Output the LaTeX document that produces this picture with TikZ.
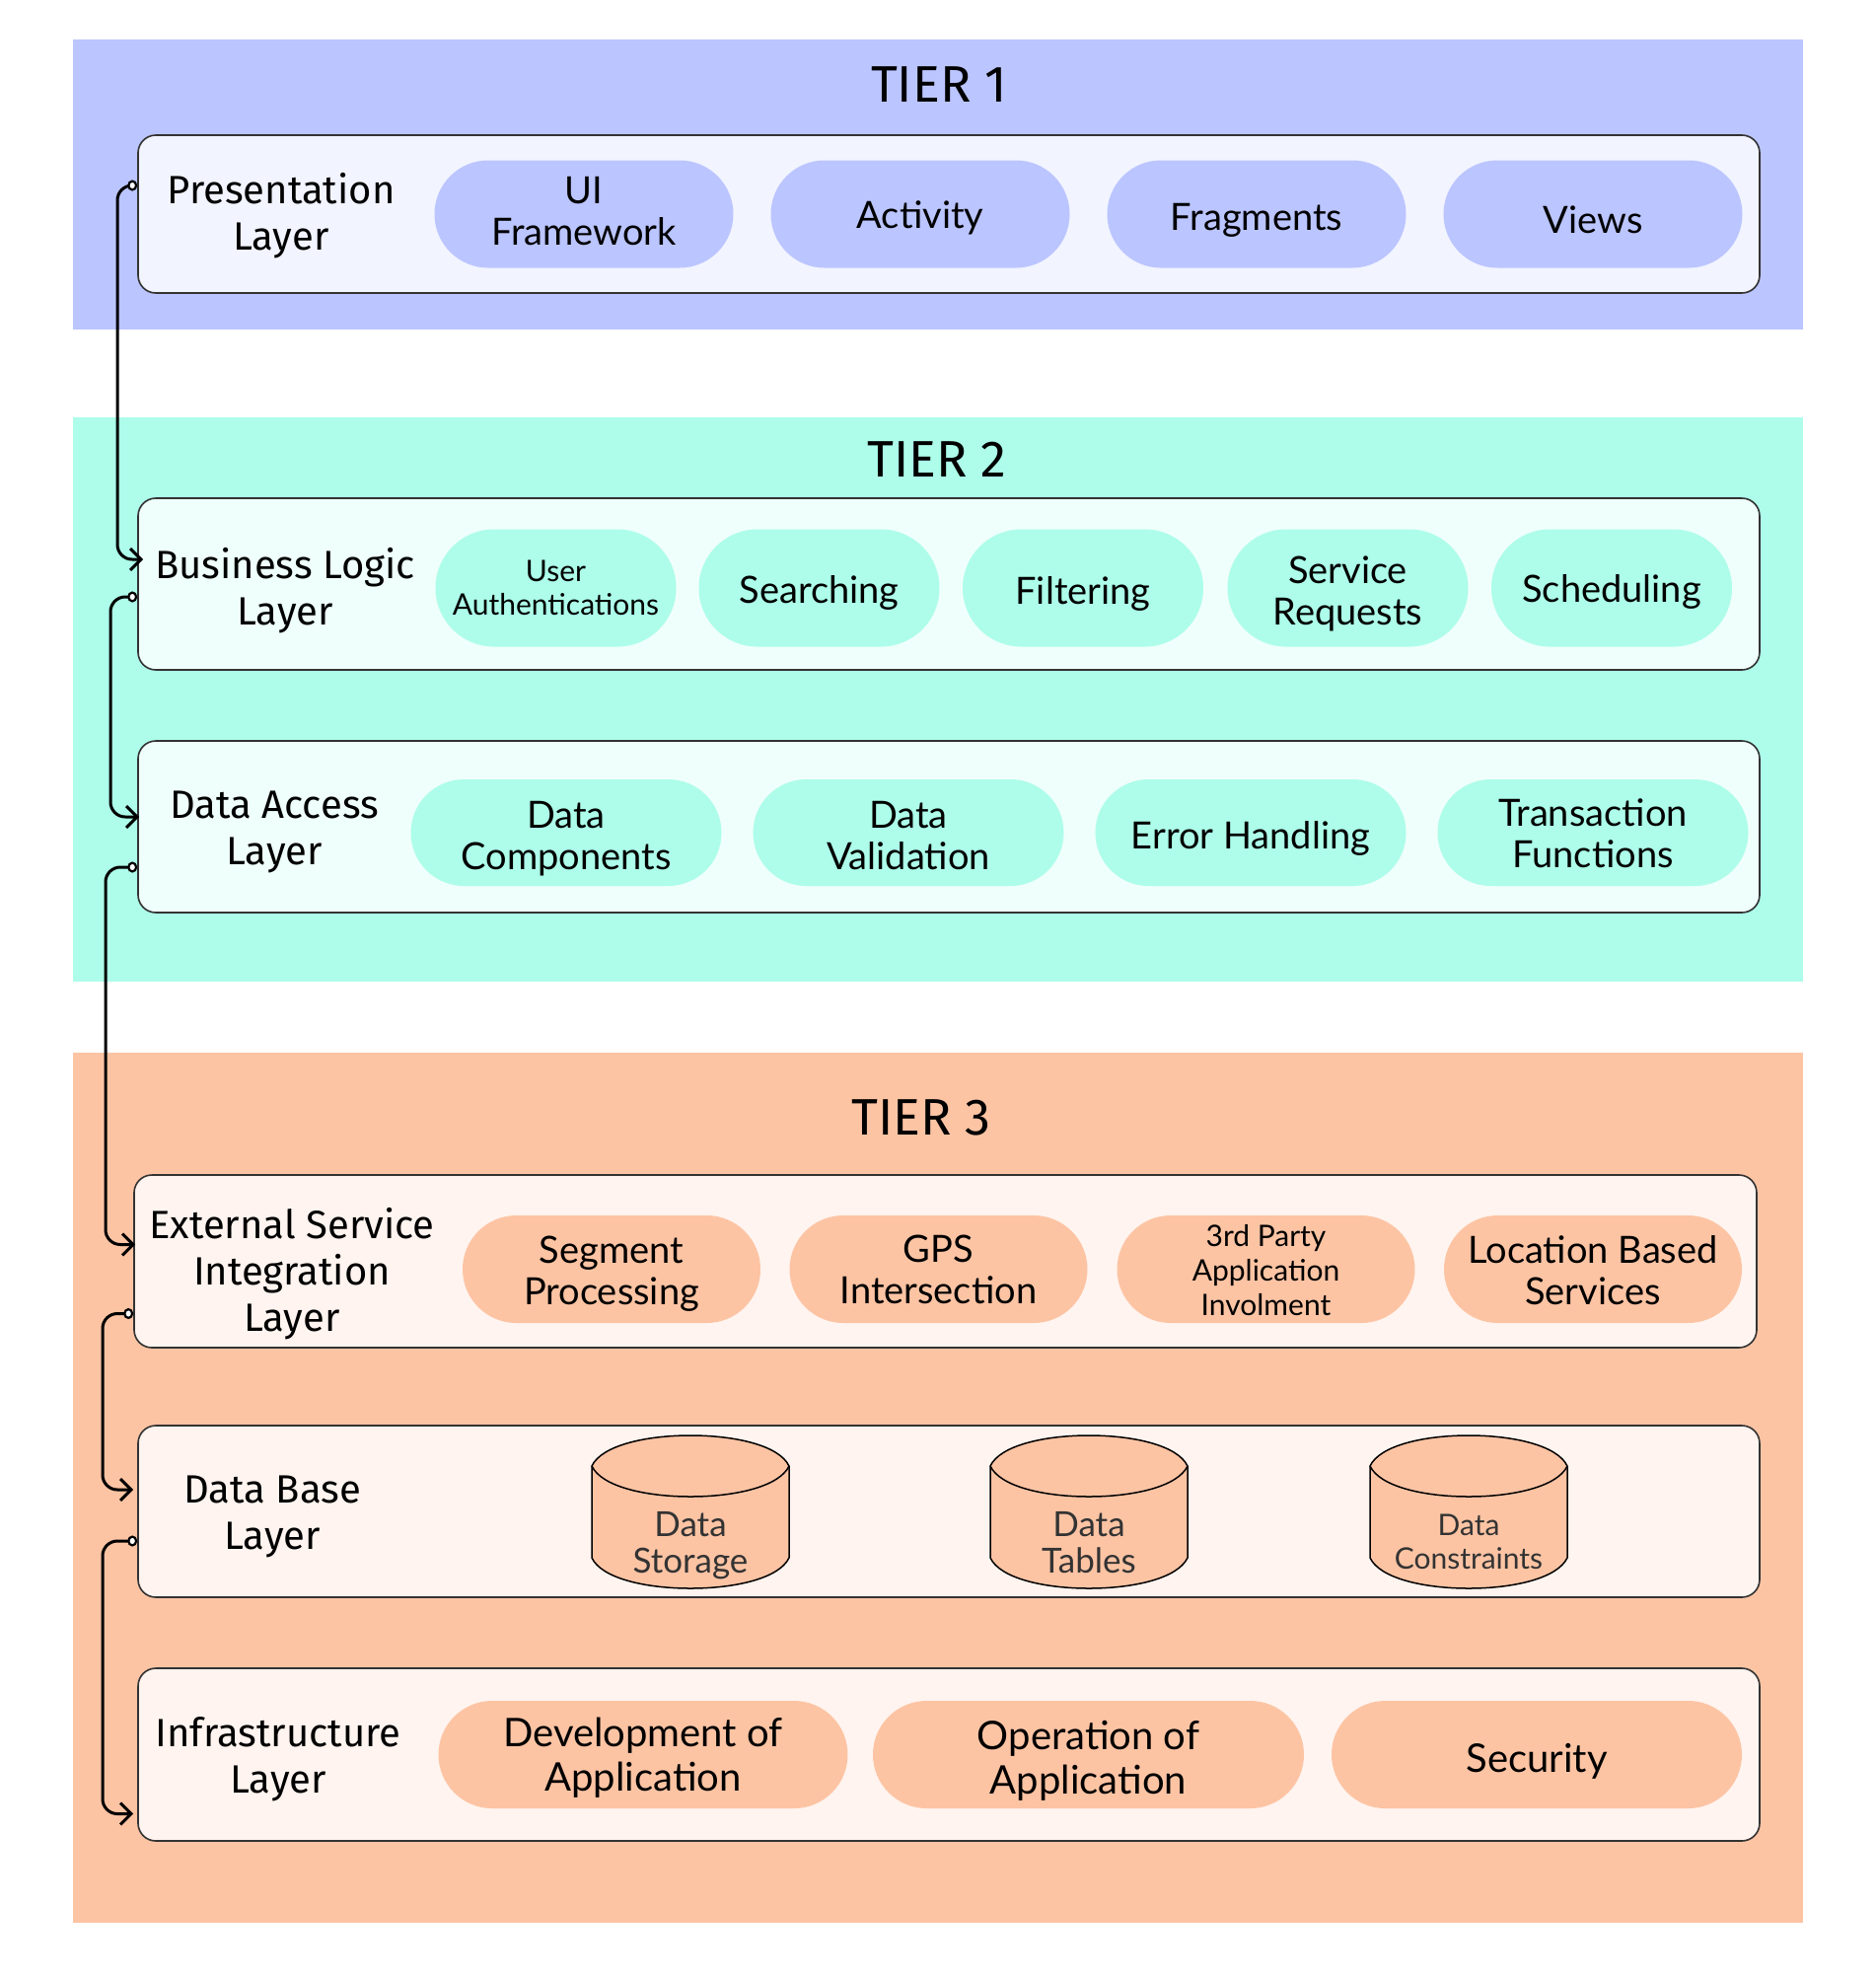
\documentclass[tikz,border=0pt]{standalone}
\usepackage{fontspec}
\setmainfont{Fira Sans}
\newfontfamily\pillfont{Lato}
\usetikzlibrary{arrows.meta,calc,shapes.misc}
\definecolor{tonebandA}{HTML}{BBC5FF}
\definecolor{toneboxA}{HTML}{F2F4FF}
\definecolor{tonebandB}{HTML}{ADFDEA}
\definecolor{toneboxB}{HTML}{EFFFFB}
\definecolor{tonebandC}{HTML}{FDC4A4}
\definecolor{toneboxC}{HTML}{FFF4EF}
\definecolor{edgegray}{HTML}{333333}
\tikzset{
  band/.style={fill=#1, draw=none, inner sep=0pt, minimum width=1754pt},
  layerbox/.style={draw=edgegray, line width=1.6pt, rounded corners=18pt, fill=#1, inner sep=0pt},
  tiertitle/.style={font=\fontsize{52}{60}\selectfont, inner sep=0pt},
  layerlabel/.style={font=\fontsize{40}{47}\selectfont, align=center, inner sep=0pt},
  pill/.style={rounded rectangle, fill=#1, draw=none, inner sep=0pt, align=center,
               font=\pillfont\fontsize{38}{42}\selectfont},
  pilltext/.style={align=center, inner sep=0pt, font=\pillfont\fontsize{38}{42}\selectfont},
  smalltext/.style={font=\pillfont\fontsize{30}{34}\selectfont},
  cyltext/.style={align=center, inner sep=0pt, text=edgegray, font=\pillfont\fontsize{35}{37}\selectfont},
  conn/.style={line width=3pt, rounded corners=15pt,
     {Circle[open,length=10pt,width=11pt,fill=white,line width=2.2pt]}-{Straight Barb[length=11pt,width=22pt]}}
}
\begin{document}
\begin{tikzpicture}[x=1pt,y=-1pt]
\useasboundingbox (0,0) rectangle (1902,2008);
\fill[white] (0,0) rectangle (1902,2008);

% bands
\node[band=tonebandA, minimum height=294pt] (tierA) at (951,187) {};
\node[band=tonebandB, minimum height=572pt] (tierB) at (951,709) {};
\node[band=tonebandC, minimum height=882pt] (tierC) at (951,1508) {};

\node[tiertitle] (titleA) at (952,86) {TIER 1};
\node[tiertitle] (titleB) at (950,466) {TIER 2};
\node[tiertitle] (titleC) at (934,1133) {TIER 3};

% layer boxes
\node[layerbox=toneboxA, minimum width=1644pt, minimum height=160pt] (pres) at (962,217) {};
\node[layerbox=toneboxB, minimum width=1644pt, minimum height=174pt] (blog) at (962,592) {};
\node[layerbox=toneboxB, minimum width=1644pt, minimum height=174pt] (dacc) at (962,838) {};
\node[layerbox=toneboxC, minimum width=1645pt, minimum height=175pt] (ext) at (958.5,1278.5) {};
\node[layerbox=toneboxC, minimum width=1644pt, minimum height=174pt] (dbase) at (962,1532) {};
\node[layerbox=toneboxC, minimum width=1644pt, minimum height=175pt] (infra) at (962,1778.5) {};

% layer labels
\node[layerlabel] (presL) at (285,219) {Presentation\\Layer};
\node[layerlabel] (blogL) at (289,599) {Business Logic\\Layer};
\node[layerlabel] (daccL) at (278,843) {Data Access\\Layer};
\node[layerlabel] (extL) at (296,1291) {External Service\\Integration\\Layer};
\node[layerlabel] (dbaseL) at (276,1537) {Data Base\\Layer};
\node[layerlabel] (infraL) at (282,1783) {Infrastructure\\Layer};

% tier 1 pills
\begin{scope}[every node/.style={pill=tonebandA, minimum width=303pt, minimum height=109pt}]
\node (pA1) at (592,217) {};
\node (pA2) at (933,217) {};
\node (pA3) at (1274,217) {};
\node (pA4) at (1615,217) {};
\end{scope}
\node[pilltext] (tA1) at ($(pA1)+(0,-3)$) {UI\\Framework};
\node[pilltext] (tA2) at ($(pA2)+(0,4)$) {Activity};
\node[pilltext] (tA3) at ($(pA3)+(0,6)$) {Fragments};
\node[pilltext] (tA4) at ($(pA4)+(0,6)$) {Views};

% tier 2 pills
\begin{scope}[every node/.style={pill=tonebandB, minimum width=244pt, minimum height=119pt}]
\node (pB1) at (563.5,596) {};
\node (pB2) at (830.5,596) {};
\node (pB3) at (1098,596) {};
\node (pB4) at (1366.5,596) {};
\node (pB5) at (1634,596) {};
\end{scope}
\node[pilltext,smalltext] (tB1) at (pB1) {User\\Authentications};
\node[pilltext] (tB2) at ($(pB2)+(0,5)$) {Searching};
\node[pilltext] (tB3) at ($(pB3)+(0,6)$) {Filtering};
\node[pilltext] (tB4) at ($(pB4)+(0,6)$) {Service\\Requests};
\node[pilltext] (tB5) at ($(pB5)+(0,4)$) {Scheduling};

\begin{scope}[every node/.style={pill=tonebandB, minimum width=315pt, minimum height=108pt}]
\node (pC1) at (574,844) {};
\node (pC2) at (921,844) {};
\node (pC3) at (1268,844) {};
\node (pC4) at (1615,844) {};
\end{scope}
\node[pilltext] (tC1) at ($(pC1)+(0,6)$) {Data\\Components};
\node[pilltext] (tC2) at ($(pC2)+(0,3)$) {Data\\Validation};
\node[pilltext] (tC3) at ($(pC3)+(0,6)$) {Error Handling};
\node[pilltext] (tC4) at ($(pC4)+(0,1)$) {Transaction\\Functions};

% tier 3 pills
\begin{scope}[every node/.style={pill=tonebandC, minimum width=302pt, minimum height=109pt}]
\node (pD1) at (620,1286.5) {};
\node (pD2) at (951.5,1286.5) {};
\node (pD3) at (1283.5,1286.5) {};
\node (pD4) at (1615,1286.5) {};
\end{scope}
\node[pilltext] (tD1) at ($(pD1)+(0,5)$) {Segment\\Processing};
\node[pilltext] (tD2) at (pD2) {GPS\\Intersection};
\node[pilltext,font=\pillfont\fontsize{30}{35}\selectfont] (tD3) at ($(pD3)+(0,1)$) {3rd Party\\Application\\Involment};
\node[pilltext] (tD4) at ($(pD4)+(0,1)$) {Location Based\\Services};

\begin{scope}[every node/.style={pill=tonebandC, minimum height=109pt}]
\node[minimum width=415pt] (pE1) at (652,1778.5) {};
\node[minimum width=437pt] (pE2) at (1103.5,1778.5) {};
\node[minimum width=416pt] (pE3) at (1558,1778.5) {};
\end{scope}
\begin{scope}[every node/.style={pilltext, font=\pillfont\fontsize{40}{45}\selectfont}]
\node (tE1) at ($(pE1)+(0,3)$) {Development of\\Application};
\node (tE2) at ($(pE2)+(0,6)$) {Operation of\\Application};
\node (tE3) at ($(pE3)+(0,7)$) {Security};
\end{scope}

% cylinders
\foreach \cx in {700,1104,1489}{
  \filldraw[fill=tonebandC, draw=black, line width=1.5pt]
    (\cx-100,1486) -- (\cx-100,1579)
    .. controls (\cx-90,1600) and (\cx-45,1610) .. (\cx,1610)
    .. controls (\cx+45,1610) and (\cx+90,1600) .. (\cx+100,1579)
    -- (\cx+100,1486)
    .. controls (\cx+90,1465) and (\cx+45,1455) .. (\cx,1455)
    .. controls (\cx-45,1455) and (\cx-90,1465) .. (\cx-100,1486) -- cycle;
  \draw[line width=1.5pt] (\cx-100,1486)
    .. controls (\cx-90,1507) and (\cx-45,1517) .. (\cx,1517)
    .. controls (\cx+45,1517) and (\cx+90,1507) .. (\cx+100,1486);
}
\node[cyltext] (cylAt) at (700,1567) {Data\\Storage};
\node[cyltext] (cylBt) at (1104,1564) {Data\\Tables};
\node[cyltext, font=\pillfont\fontsize{30}{34}\selectfont] (cylCt) at (1489,1563) {Data\\Constraints};

% connectors
\coordinate (vA) at (119,0);
\coordinate (vB) at (112,0);
\coordinate (vC) at (107,0);
\coordinate (vD) at (104,0);
\coordinate (vE) at (104,0);
\coordinate (sA) at ($(pres.west)+(0,-29)$);
\coordinate (eA) at ($(blog.west)+(6,-25)$);
\coordinate (sB) at ($(blog.west)+(0,13)$);
\coordinate (eB) at ($(dacc.west)+(2,-10)$);
\coordinate (sC) at ($(dacc.west)+(0,41)$);
\coordinate (eC) at ($(ext.west)+(2,-17)$);
\coordinate (sD) at ($(ext.west)+(0,53)$);
\coordinate (eD) at ($(dbase.west)+(-4,-22)$);
\coordinate (sE) at ($(dbase.west)+(0,30)$);
\coordinate (eE) at ($(infra.west)+(-4,60)$);
\draw[conn] (sA) -- (sA -| vA) -- (eA -| vA) -- (eA);
\draw[conn] (sB) -- (sB -| vB) -- (eB -| vB) -- (eB);
\draw[conn] (sC) -- (sC -| vC) -- (eC -| vC) -- (eC);
\draw[conn] (sD) -- (sD -| vD) -- (eD -| vD) -- (eD);
\draw[conn] (sE) -- (sE -| vE) -- (eE -| vE) -- (eE);
\end{tikzpicture}
\end{document}
